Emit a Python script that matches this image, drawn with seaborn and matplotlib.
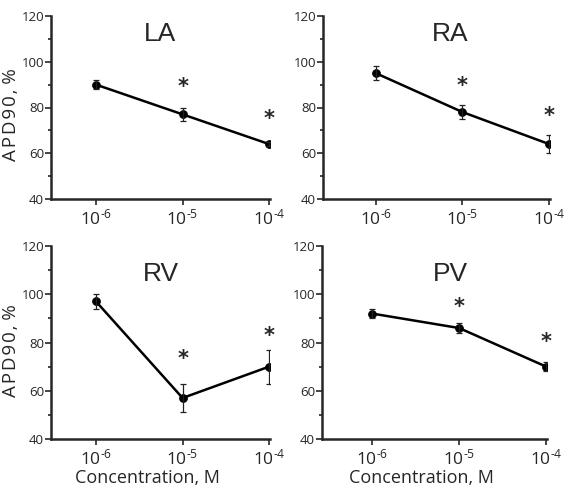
import numpy as np
import pandas as pd
import matplotlib
matplotlib.use("Agg")
import matplotlib.pyplot as plt
import seaborn as sns
from matplotlib.ticker import MultipleLocator

# ---- data ----
log_conc = [-6, -5, -4]
xtick_labels = [r"$10^{\text{-}6}$", r"$10^{\text{-}5}$", r"$10^{\text{-}4}$"]
panels = ["LA", "RA", "RV", "PV"]
la_mean = [90, 77, 64]
la_err = [2, 3, 0.8]
ra_mean = [95, 78, 64]
ra_err = [3, 3, 4]
rv_mean = [97, 57, 70]
rv_err = [3, 6, 7]
pv_mean = [92, 86, 70]
pv_err = [2, 2, 2]
# significance markers at 1e-5 and 1e-4 (y position)
la_star = [89, 75]
ra_star = [89.5, 76.5]
rv_star = [73, 82.5]
pv_star = [94.7, 80]

means = [la_mean, ra_mean, rv_mean, pv_mean]
errs = [la_err, ra_err, rv_err, pv_err]
stars = [la_star, ra_star, rv_star, pv_star]

sns.set_theme(style="ticks")
plt.rcParams['font.family'] = ['Open Sans', 'DejaVu Sans']
plt.rcParams['mathtext.fontset'] = 'custom'
plt.rcParams['mathtext.rm'] = 'Open Sans'
plt.rcParams['mathtext.it'] = 'Open Sans'

W, H = 567, 488
fig = plt.figure(figsize=(W / 100, H / 100), dpi=100)

# pixel boxes: left, right, top, bottom, xlim-left, title x frac, title y frac
boxes = [
    (51, 270, 16, 199, -6.52, 0.50, 0.967),
    (323, 550, 16, 199, -6.61, 0.56, 0.967),
    (51, 270, 246, 439, -6.52, 0.50, 0.917),
    (322, 547, 246, 439, -6.575, 0.57, 0.917),
]

thin = "\u200a"
ylab = thin.join("APD90,") + " " + "%"

for i, name in enumerate(panels):
    l, r, t, b, xl, tx, ty = boxes[i]
    ax = fig.add_axes([l / W, 1 - b / H, (r - l) / W, (b - t) / H])
    df = pd.DataFrame({"x": log_conc, "y": means[i]})
    sns.lineplot(data=df, x="x", y="y", ax=ax, color="black", lw=1.8,
                 marker="o", markersize=5.5, markeredgecolor="black")
    ax.errorbar(log_conc, means[i], yerr=errs[i], fmt="none", ecolor="#222222",
                elinewidth=0.9, capsize=2.5, capthick=0.9)
    for xs, ys in zip(log_conc[1:], stars[i]):
        ax.text(xs, ys, "*", ha="center", va="center", fontsize=15,
                fontweight="bold", family="DejaVu Sans")
    ax.set_xlim(xl, -3.99)
    ax.set_ylim(40, 120)
    ax.set_yticks([40, 60, 80, 100, 120])
    ax.yaxis.set_minor_locator(MultipleLocator(10))
    ax.set_xticks(log_conc)
    ax.set_xticklabels(xtick_labels, fontsize=12.5)
    ax.tick_params(axis="y", labelsize=9.5, width=1.2, length=4, pad=1)
    ax.tick_params(axis="y", which="minor", width=1.2, length=2.5)
    ax.tick_params(axis="x", width=1.2, length=4, pad=3)
    for s in ["top", "right"]:
        ax.spines[s].set_visible(False)
    for s in ["left", "bottom"]:
        ax.spines[s].set_linewidth(1.8)
    ax.set_xlabel("")
    ax.set_ylabel("")
    ax.text(tx, ty, name, transform=ax.transAxes, ha="center", va="top",
            fontsize=19, family=["Liberation Sans", "DejaVu Sans"])
    if i in (0, 2):
        ax.set_ylabel(ylab, fontsize=13.5, labelpad=1)
        ax.yaxis.label.set_y(0.46)
    if i in (2, 3):
        ax.set_xlabel("Concentration, M", fontsize=13, labelpad=0)
        ax.xaxis.label.set_x(0.44)

fig.savefig("out.png", dpi=100)
